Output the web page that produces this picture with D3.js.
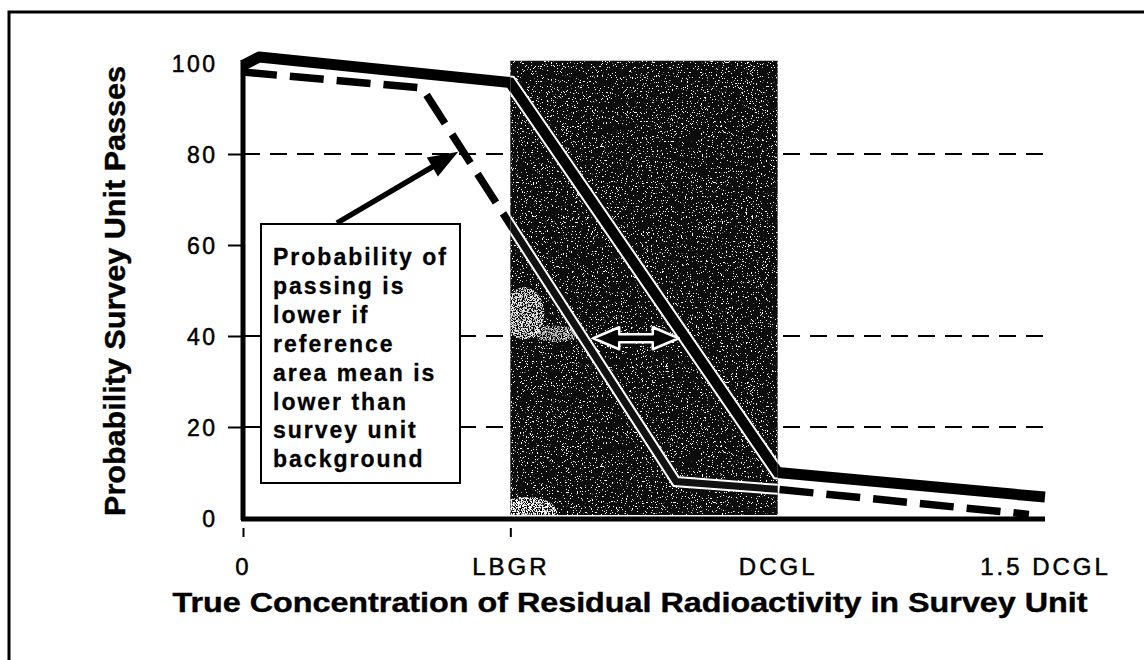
<!DOCTYPE html>
<html>
<head>
<meta charset="utf-8">
<script src="https://cdn.jsdelivr.net/npm/d3@7"></script>
<style>
  html, body { margin: 0; padding: 0; background: #fff; }
  svg { display: block; font-family: "Liberation Sans", Arial, sans-serif; }
</style>
</head>
<body>
<svg id="chart" width="1144" height="660"></svg>
<script>
// Category positions along the concentration axis
const xCategories = ["0", "LBGR", "DCGL", "1.5 DCGL"];
const xPositions = [0, 1, 2, 3];
const xTickMarks = [0, 1];

// Probability axis
const yTicks = [0, 20, 40, 60, 80, 100];
const yTickMarks = [20, 40, 60, 80];
const gridValues = [20, 40, 80];

// Gray region between LBGR and DCGL
const grayRegion = [1, 2];
const grayTop = 100.5;

// Power curve when reference area matches survey unit background (solid)
const matchedX = [0, 0.06, 1, 2, 3];
const matchedY = [99.5, 101.3, 95.7, 10, 4.6];

// Power curve when reference area mean is lower (dashed)
const lowerX = [0, 0.67, 1.62, 2, 2.94];
const lowerY = [98, 94.5, 8, 6.3, 0.8];

// Horizontal shift between the two curves, marked at 40 %
const shiftX = [1.31, 1.63];
const shiftY = 39.5;

// Callout pointing at the dashed curve
const calloutTarget = [0.805, 80.5];
const noteLines = [
  "Probability of",
  "passing is",
  "lower if",
  "reference",
  "area mean is",
  "lower than",
  "survey unit",
  "background"
];

const xTitle = "True Concentration of Residual Radioactivity in Survey Unit";
const yTitle = "Probability Survey Unit Passes";

const svg = d3.select("#chart");
const x = d3.scaleLinear().domain([0, 3]).range([243, 1045]);
const y = d3.scaleLinear().domain([0, 100]).range([518, 63]);

const defs = svg.append("defs");

// speckled textures for the gray region
function speckle(id, seed, slope, offset) {
  const f = defs.append("filter").attr("id", id)
    .attr("x", 0).attr("y", 0).attr("width", 1).attr("height", 1);
  f.append("feTurbulence").attr("type", "fractalNoise")
    .attr("baseFrequency", 0.8).attr("numOctaves", 2).attr("seed", seed).attr("result", "n");
  f.append("feColorMatrix").attr("in", "n").attr("type", "matrix")
    .attr("values", `0 0 0 0 1  0 0 0 0 1  0 0 0 0 1  ${slope} 0 0 0 ${offset}`).attr("result", "dots");
  f.append("feComposite").attr("in", "dots").attr("in2", "SourceGraphic").attr("operator", "in");
}
speckle("speckle", 7, 30, -19.6);
speckle("speckleDense", 3, 14, -6.4);

defs.append("clipPath").attr("id", "grayClip")
  .append("rect")
  .attr("x", x(grayRegion[0])).attr("y", y(grayTop))
  .attr("width", x(grayRegion[1]) - x(grayRegion[0]))
  .attr("height", y(0) - 3 - y(grayTop));

// outer frame (top and left edges)
svg.append("path")
  .attr("d", "M9,660 V12 H1144")
  .attr("fill", "none").attr("stroke", "#000").attr("stroke-width", 3);

// dashed horizontal gridlines
svg.append("g").selectAll("line").data(gridValues).join("line")
  .attr("x1", x(0)).attr("x2", x(3))
  .attr("y1", d => y(d)).attr("y2", d => y(d))
  .attr("stroke", "#000").attr("stroke-width", 2)
  .attr("stroke-dasharray", "17,10");

// gray region
const gx = x(grayRegion[0]), gw = x(grayRegion[1]) - x(grayRegion[0]);
const gy = y(grayTop), gh = y(0) - 3 - y(grayTop);
svg.append("rect").attr("x", gx).attr("y", gy).attr("width", gw).attr("height", gh)
  .attr("fill", "#0c0c0c");
svg.append("rect").attr("x", gx).attr("y", gy).attr("width", gw).attr("height", gh)
  .attr("fill", "#fff").attr("filter", "url(#speckle)");
// worn blotches of the texture near the left edge
const g = svg.append("g").attr("clip-path", "url(#grayClip)");
g.append("ellipse").attr("cx", gx + 16).attr("cy", y(1.5)).attr("rx", 30).attr("ry", 14)
  .attr("fill", "#fff").attr("filter", "url(#speckleDense)");
g.append("ellipse").attr("cx", gx + 14).attr("cy", y(45)).attr("rx", 20).attr("ry", 26)
  .attr("fill", "#fff").attr("opacity", 0.85).attr("filter", "url(#speckleDense)");
g.append("ellipse").attr("cx", gx + 45).attr("cy", y(40.5)).attr("rx", 22).attr("ry", 8)
  .attr("fill", "#fff").attr("opacity", 0.7).attr("filter", "url(#speckleDense)");

const line = d3.line().x(d => x(d[0])).y(d => y(d[1]));
const matched = matchedX.map((v, i) => [v, matchedY[i]]);
const lower = lowerX.map((v, i) => [v, lowerY[i]]);

// curves outside and across the gray region
svg.append("path").attr("d", line(lower))
  .attr("fill", "none").attr("stroke", "#000").attr("stroke-width", 7.5)
  .attr("stroke-dasharray", "34,13").attr("stroke-linejoin", "round");
svg.append("path").attr("d", line(matched))
  .attr("fill", "none").attr("stroke", "#000").attr("stroke-width", 11)
  .attr("stroke-linejoin", "round");

// inside the gray region the curves carry a white edge
const inGray = svg.append("g").attr("clip-path", "url(#grayClip)");
inGray.append("path").attr("d", line(lower))
  .attr("fill", "none").attr("stroke", "#fff").attr("stroke-width", 11);
inGray.append("path").attr("d", line(lower))
  .attr("fill", "none").attr("stroke", "#111").attr("stroke-width", 7);
inGray.append("path").attr("d", line(matched))
  .attr("fill", "none").attr("stroke", "#fff").attr("stroke-width", 14);
inGray.append("path").attr("d", line(matched))
  .attr("fill", "none").attr("stroke", "#000").attr("stroke-width", 10);

// double-headed arrow showing the shift between curves
{
  const x0 = x(shiftX[0]), x1 = x(shiftX[1]), cy = y(shiftY);
  const hl = 26, hh = 11, sh = 4;
  const p = [
    [x0, cy], [x0 + hl, cy - hh], [x0 + hl, cy - sh], [x1 - hl, cy - sh],
    [x1 - hl, cy - hh], [x1, cy], [x1 - hl, cy + hh], [x1 - hl, cy + sh],
    [x0 + hl, cy + sh], [x0 + hl, cy + hh]
  ];
  svg.append("path").attr("d", "M" + p.join("L") + "Z")
    .attr("fill", "#000").attr("stroke", "#fff").attr("stroke-width", 2.5)
    .attr("stroke-linejoin", "round");
}

// axes
const yAxis = d3.axisLeft(y).tickValues(yTicks).tickSize(15).tickPadding(13);
const gy1 = svg.append("g").attr("transform", `translate(${x(0)},0)`).call(yAxis);
gy1.select(".domain").remove();
gy1.selectAll(".tick line")
  .attr("stroke", "#000").attr("stroke-width", 2)
  .style("display", d => yTickMarks.includes(d) ? null : "none");
gy1.selectAll(".tick text")
  .attr("fill", "#000").attr("stroke", "#000").attr("stroke-width", 0.5)
  .attr("font-size", 23).attr("letter-spacing", 2.5)
  .attr("dx", 2.5).attr("dy", "0.36em")
  .attr("font-family", "Liberation Sans, Arial, sans-serif");

const xAxis = d3.axisBottom(x).tickValues(xPositions)
  .tickFormat(d => xCategories[d]).tickSize(0);
const gx1 = svg.append("g").attr("transform", `translate(0,${y(0)})`).call(xAxis);
gx1.select(".domain").remove();
gx1.selectAll(".tick text")
  .attr("fill", "#000").attr("stroke", "#000").attr("stroke-width", 0.5)
  .attr("font-size", 24).attr("letter-spacing", 3)
  .attr("y", 57).attr("dy", 0)
  .attr("font-family", "Liberation Sans, Arial, sans-serif");
gx1.selectAll(".tick").filter(d => xTickMarks.includes(d))
  .append("line").attr("y1", 10).attr("y2", 19)
  .attr("stroke", "#000").attr("stroke-width", 2);

// axis lines
svg.append("line").attr("x1", x(0)).attr("x2", x(0))
  .attr("y1", y(0) + 2).attr("y2", y(100) - 3)
  .attr("stroke", "#000").attr("stroke-width", 5);
svg.append("line").attr("x1", x(0) - 2).attr("x2", x(3))
  .attr("y1", y(0) + 1).attr("y2", y(0) + 1)
  .attr("stroke", "#000").attr("stroke-width", 5);

// callout box and arrow
const box = { x: 261, y: 224, w: 199, h: 259 };
svg.append("rect").attr("x", box.x).attr("y", box.y)
  .attr("width", box.w).attr("height", box.h)
  .attr("fill", "#fff").attr("stroke", "#000").attr("stroke-width", 2);
const note = svg.append("text")
  .attr("font-size", 23).attr("font-weight", "bold").attr("letter-spacing", 2)
  .attr("stroke", "#000").attr("stroke-width", 0.3)
  .attr("fill", "#000");
note.selectAll("tspan").data(noteLines).join("tspan")
  .attr("x", 273).attr("y", (d, i) => 265 + i * 28.9)
  .text(d => d);

{
  const tail = [337, 223];
  const tip = [x(calloutTarget[0]), y(calloutTarget[1])];
  const ang = Math.atan2(tip[1] - tail[1], tip[0] - tail[0]);
  const hl = 30, hw = 11;
  const bx = tip[0] - hl * Math.cos(ang), by = tip[1] - hl * Math.sin(ang);
  svg.append("line").attr("x1", tail[0]).attr("y1", tail[1])
    .attr("x2", bx + 4 * Math.cos(ang)).attr("y2", by + 4 * Math.sin(ang))
    .attr("stroke", "#000").attr("stroke-width", 5.5);
  const px = -Math.sin(ang), py = Math.cos(ang);
  svg.append("path")
    .attr("d", `M${tip[0]},${tip[1]}L${bx + hw * px},${by + hw * py}L${bx - hw * px},${by - hw * py}Z`)
    .attr("fill", "#000");
}

// axis titles
svg.append("text")
  .attr("x", 630).attr("y", 612).attr("text-anchor", "middle")
  .attr("font-size", 27).attr("font-weight", "bold")
  .attr("stroke", "#000").attr("stroke-width", 0.4)
  .attr("textLength", 915).attr("lengthAdjust", "spacingAndGlyphs")
  .text(xTitle);
svg.append("text")
  .attr("transform", "translate(125,291) rotate(-90)")
  .attr("text-anchor", "middle")
  .attr("font-size", 30).attr("font-weight", "bold")
  .attr("stroke", "#000").attr("stroke-width", 0.4)
  .attr("textLength", 450).attr("lengthAdjust", "spacingAndGlyphs")
  .text(yTitle);
</script>
</body>
</html>
